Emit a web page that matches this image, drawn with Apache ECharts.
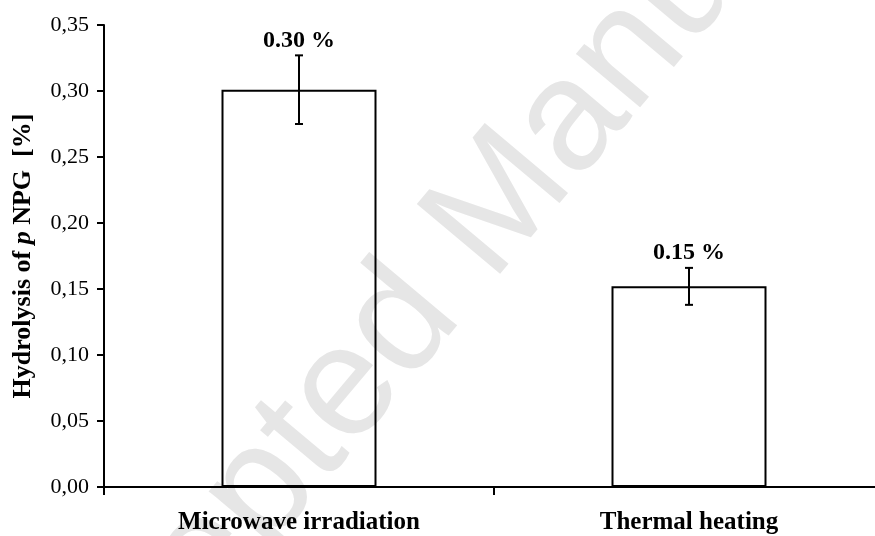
<!DOCTYPE html>
<html>
<head>
<meta charset="utf-8">
<title>Hydrolysis of pNPG</title>
<script src="https://cdn.jsdelivr.net/npm/echarts@6/dist/echarts.min.js"></script>
<style>
  html, body { margin: 0; padding: 0; background: #fff; }
  #chart { width: 875px; height: 536px; }
</style>
</head>
<body>
<div id="chart"></div>
<script>
// Heating method compared
const categories = ['Microwave irradiation', 'Thermal heating'];
// Hydrolysis of pNPG [%] and its standard deviation
const hydrolysis = [0.301, 0.152];
const hydrolysisErr = [0.026, 0.014];
// Value-axis range
const yMin = 0, yMax = 0.35, yStep = 0.05;

const serif = 'Liberation Serif, Times New Roman, serif';

const chart = echarts.init(document.getElementById('chart'), null, { renderer: 'canvas' });

const errData = hydrolysis.map((v, i) => [i, v, hydrolysisErr[i]]);

chart.setOption({
  animation: false,
  backgroundColor: '#fff',
  graphic: [{
    type: 'text',
    z: -10,
    x: 481,
    y: 229,
    rotation: 50 * Math.PI / 180,
    style: {
      text: 'Accepted Manuscript',
      fill: '#e6e6e6',
      font: '158px "Liberation Sans", Arial, sans-serif',
      textAlign: 'center',
      textVerticalAlign: 'middle'
    }
  }],
  grid: { left: 104, top: 25, right: -9, bottom: 49, outerBoundsMode: 'none', containLabel: false },
  xAxis: {
    type: 'category',
    data: categories,
    boundaryGap: true,
    axisLine: { show: true, lineStyle: { color: '#000', width: 2 } },
    axisTick: { show: true, inside: false, length: 8, lineStyle: { color: '#000', width: 2 } },
    axisLabel: {
      color: '#000', fontFamily: serif, fontWeight: 'bold', fontSize: 25, margin: 23
    },
    splitLine: { show: false }
  },
  yAxis: {
    type: 'value',
    min: yMin, max: yMax, interval: yStep,
    name: '{b|Hydrolysis of }{i|p}{b| NPG  [%]}',
    nameLocation: 'middle',
    nameGap: 68,
    nameRotate: 90,
    nameTextStyle: {
      rich: {
        b: { fontFamily: serif, fontWeight: 'bold', fontSize: 26, color: '#000' },
        i: { fontFamily: serif, fontWeight: 'bold', fontStyle: 'italic', fontSize: 26, color: '#000' }
      }
    },
    axisLine: { show: true, lineStyle: { color: '#000', width: 2 } },
    axisTick: { show: true, inside: false, length: 7, lineStyle: { color: '#000', width: 2 } },
    axisLabel: {
      color: '#000', fontFamily: serif, fontSize: 22, margin: 15,
      formatter: v => v.toFixed(2).replace('.', ',')
    },
    splitLine: { show: false }
  },
  series: [
    {
      type: 'bar',
      data: hydrolysis,
      barWidth: 155,
      itemStyle: { color: 'rgba(255,255,255,0)', borderColor: '#000', borderWidth: 2 },
      z: 2
    },
    {
      type: 'custom',
      data: errData,
      z: 3,
      renderItem: (params, api) => {
        const x = api.value(0), v = api.value(1), e = api.value(2);
        const top = api.coord([x, v + e]);
        const bot = api.coord([x, v - e]);
        const cap = 4;
        const line = (x1, y1, x2, y2) => ({
          type: 'line',
          shape: { x1, y1, x2, y2 },
          style: { stroke: '#000', lineWidth: 2 }
        });
        return {
          type: 'group',
          children: [
            line(top[0], top[1], bot[0], bot[1]),
            line(top[0] - cap, top[1], top[0] + cap, top[1]),
            line(bot[0] - cap, bot[1], bot[0] + cap, bot[1]),
            {
              type: 'text',
              x: top[0],
              y: top[1] - 3,
              style: {
                text: v.toFixed(2) + ' %',
                fill: '#000',
                font: 'bold 24px ' + serif,
                textAlign: 'center',
                textVerticalAlign: 'bottom'
              }
            }
          ]
        };
      }
    }
  ]
});
</script>
</body>
</html>
